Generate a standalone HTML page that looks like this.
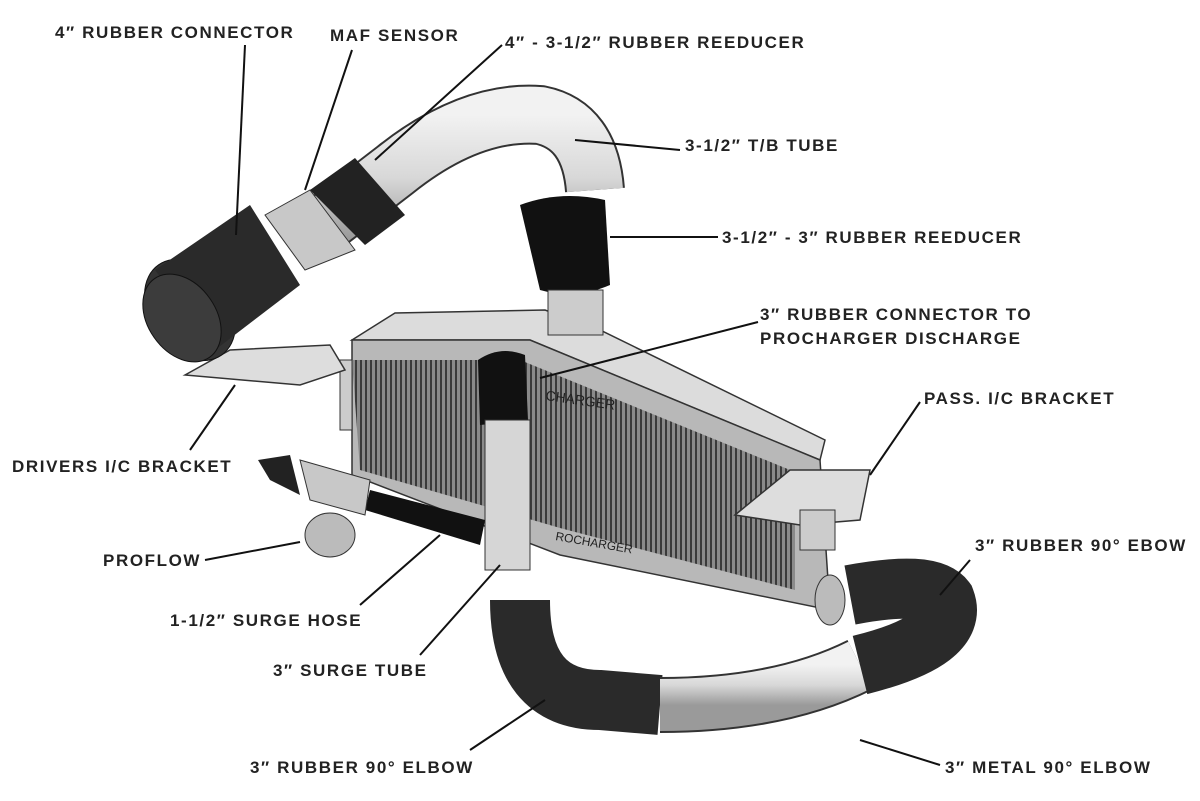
<!DOCTYPE html>
<html><head><meta charset="utf-8"><style>
html,body{margin:0;padding:0;background:#fff;}
svg{display:block}
text{font-family:"Liberation Sans",sans-serif;font-weight:bold;font-size:17px;fill:#222;letter-spacing:1.6px;}
</style></head><body>
<svg width="1200" height="801" viewBox="0 0 1200 801" xmlns="http://www.w3.org/2000/svg">
<defs>
<pattern id="fins" width="5" height="10" patternUnits="userSpaceOnUse">
<rect width="5" height="10" fill="#8a8a8a"/><rect width="2" height="10" fill="#3a3a3a"/>
</pattern>
<linearGradient id="metal" x1="0" y1="0" x2="0" y2="1">
<stop offset="0" stop-color="#f2f2f2"/><stop offset="0.5" stop-color="#d8d8d8"/><stop offset="1" stop-color="#9a9a9a"/>
</linearGradient>
</defs>

<polygon points="352,340 395,313 545,310 600,330 825,440 820,460 530,340" fill="#dcdcdc" stroke="#333" stroke-width="1.5"/>
<polygon points="352,340 530,340 820,460 830,610 560,555 352,475" fill="#b8b8b8" stroke="#333" stroke-width="1.5"/>
<polygon points="352,360 520,360 795,472 795,590 560,528 360,470" fill="url(#fins)"/>
<polygon points="340,360 352,360 352,430 340,430" fill="#ccc" stroke="#333"/>
<text x="545" y="400" style="font-size:14px;font-weight:normal;letter-spacing:0" transform="rotate(8 545 400)">CHARGER</text>
<text x="555" y="540" style="font-size:12px;font-weight:normal;letter-spacing:0" transform="rotate(10 555 540)">ROCHARGER</text>

<polygon points="735,515 790,470 870,470 860,520 800,525" fill="#ddd" stroke="#333" stroke-width="1.5"/>
<rect x="800" y="510" width="35" height="40" fill="#ccc" stroke="#333"/>
<polygon points="185,375 230,350 330,345 345,370 300,385" fill="#ddd" stroke="#333" stroke-width="1.5"/>

<path d="M300,240 L330,220 L395,170 Q470,110 540,115 Q590,125 595,190" fill="none" stroke="#333" stroke-width="60"/>
<path d="M300,240 L330,220 L395,170 Q470,110 540,115 Q590,125 595,190" fill="none" stroke="url(#metal)" stroke-width="56"/>
<path d="M310,190 L355,158 L405,215 L365,245 Z" fill="#222"/>
<path d="M265,215 L310,190 L355,250 L305,270 Z" fill="#c8c8c8" stroke="#333"/>
<ellipse cx="190" cy="310" rx="40" ry="55" transform="rotate(-35 190 310)" fill="#333" stroke="#111"/>
<path d="M155,270 L250,205 L300,285 L215,350 Z" fill="#2a2a2a"/>
<ellipse cx="182" cy="318" rx="34" ry="48" transform="rotate(-35 182 318)" fill="#3c3c3c" stroke="#111"/>
<path d="M520,205 Q560,190 605,200 L610,285 Q575,300 540,290 Z" fill="#111"/>
<rect x="548" y="290" width="55" height="45" fill="#ccc" stroke="#333"/>
<path d="M478,360 Q500,345 525,355 L528,420 L480,425 Z" fill="#111"/>
<rect x="485" y="420" width="45" height="150" fill="#d6d6d6" stroke="#333"/>
<path d="M370,490 L485,520 L480,545 L365,510 Z" fill="#111"/>
<path d="M300,460 L370,480 L365,515 L310,500 Z" fill="#c8c8c8" stroke="#333"/>
<path d="M258,460 L290,455 L300,495 L270,480 Z" fill="#222"/>
<ellipse cx="330" cy="535" rx="25" ry="22" fill="#bbb" stroke="#333"/>

<path d="M520,600 Q520,700 600,700 L660,705" fill="none" stroke="#2a2a2a" stroke-width="60"/>
<path d="M660,705 Q780,705 860,665" fill="none" stroke="#333" stroke-width="56"/>
<path d="M660,705 Q780,705 860,665" fill="none" stroke="url(#metal)" stroke-width="52"/>
<path d="M860,665 Q960,640 945,600 Q930,580 850,595" fill="none" stroke="#2a2a2a" stroke-width="60"/>
<ellipse cx="830" cy="600" rx="15" ry="25" fill="#bbb" stroke="#333"/>

<g stroke="#111" stroke-width="2" fill="none">
<line x1="245" y1="45" x2="236" y2="235"/>
<line x1="352" y1="50" x2="305" y2="190"/>
<line x1="502" y1="45" x2="375" y2="160"/>
<line x1="680" y1="150" x2="575" y2="140"/>
<line x1="718" y1="237" x2="610" y2="237"/>
<line x1="758" y1="322" x2="540" y2="378"/>
<line x1="920" y1="402" x2="870" y2="475"/>
<line x1="190" y1="450" x2="235" y2="385"/>
<line x1="205" y1="560" x2="300" y2="542"/>
<line x1="360" y1="605" x2="440" y2="535"/>
<line x1="420" y1="655" x2="500" y2="565"/>
<line x1="470" y1="750" x2="545" y2="700"/>
<line x1="940" y1="765" x2="860" y2="740"/>
<line x1="970" y1="560" x2="940" y2="595"/>
</g>

<text x="55" y="38">4″ RUBBER CONNECTOR</text>
<text x="330" y="41">MAF SENSOR</text>
<text x="505" y="48">4″ - 3-1/2″ RUBBER REEDUCER</text>
<text x="685" y="151">3-1/2″ T/B TUBE</text>
<text x="722" y="243">3-1/2″ - 3″ RUBBER REEDUCER</text>
<text x="760" y="320">3″ RUBBER CONNECTOR TO</text>
<text x="760" y="344">PROCHARGER DISCHARGE</text>
<text x="924" y="404">PASS. I/C BRACKET</text>
<text x="12" y="472">DRIVERS I/C BRACKET</text>
<text x="975" y="551">3″ RUBBER 90° EBOW</text>
<text x="103" y="566">PROFLOW</text>
<text x="170" y="626">1-1/2″ SURGE HOSE</text>
<text x="273" y="676">3″ SURGE TUBE</text>
<text x="250" y="773">3″ RUBBER 90° ELBOW</text>
<text x="945" y="773">3″ METAL 90° ELBOW</text>
</svg>
</body></html>
